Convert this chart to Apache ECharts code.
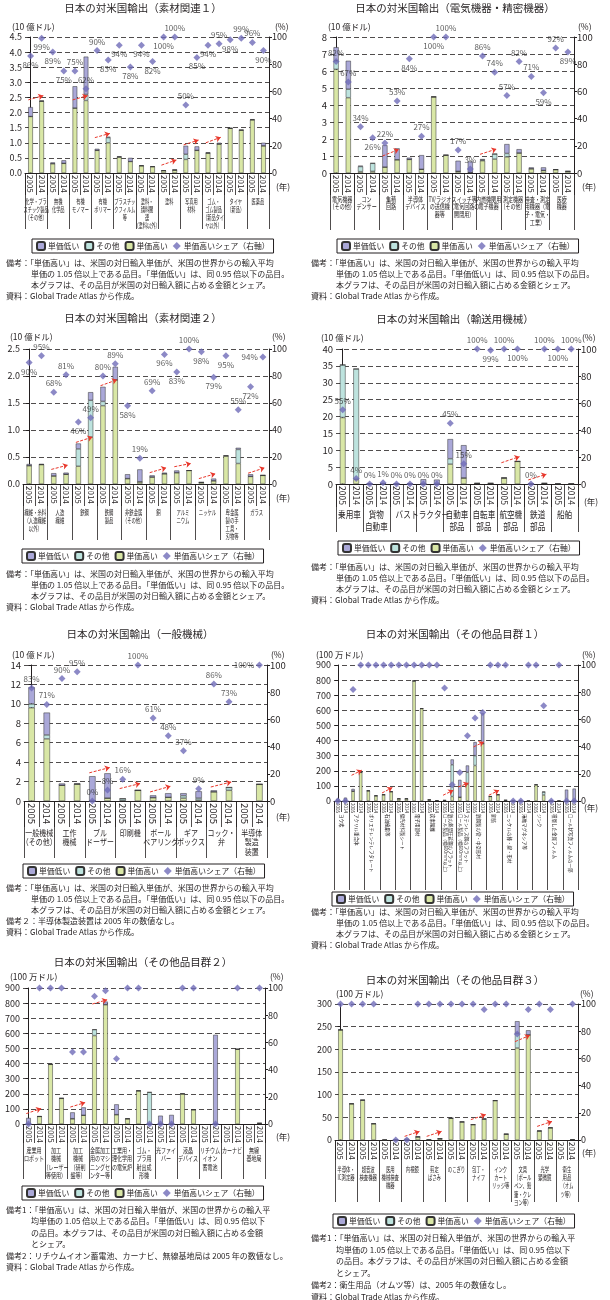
<!DOCTYPE html>
<html><head><meta charset="utf-8">
<script src="https://cdn.jsdelivr.net/npm/echarts@6/dist/echarts.min.js"></script>
<style>html,body{margin:0;padding:0;background:#fff}#c{width:610px;height:1300px}</style>
</head><body><div id="c"></div>
<script>
const yearLabels = ['2005','2014'];

// Panel 1: 素材関連１ (10億ドル)
const p1Groups = ['化学・プラ\nスチック製品\n（その他）','無機\n化学品','有機\nモノマー','有機\nポリマー','プラスチッ\nクフィルム\n等','塗料・\n顔料関\n連\n（塗料以外）','塗料','写真用\n材料','ゴム・\nゴム製品\n（新品タイ\nヤ以外）','タイヤ\n（新品）','医薬品'];
const p1High  = [1.87,2.38, 0.31,0.32, 2.15,2.40, 0.75,1.00, 0.53,0.38, 0.24,0.21, 0.08,0.10, 0.45,0.75, 0.66,0.96, 1.48,1.42, 1.76,0.90];
const p1Other = [0,0, 0,0, 0,0.20, 0,0.17, 0,0, 0,0, 0,0, 0.17,0, 0,0, 0,0, 0,0];
const p1Low   = [0.31,0, 0.04,0.10, 0.72,1.25, 0.05,0.03, 0.02,0.12, 0.01,0.01, 0,0, 0.28,0.13, 0.02,0.04, 0,0, 0.02,0.10];
const p1Share = [86,99, 89,75, 75,62, 90,83, 94,78, 94,82, 100,100, 50,85, 94,95, 98,99, 96,90];
const p1Pos   = ['b','b','b','b','t','t','t','b','b','b','b','b','b','t','t','b','b','t','b','t','t','b'];
const p1Arrows = [[0,2.42,2.56],[2,2.42,2.56],[3,1.17,1.31],[6,0.26,0.43],[7,0.93,1.09],[8,1.0,1.18]];

// Panel 2: 電気機器・精密機器 (10億ドル)
const p2Groups = ['電気機器\n（その他）','コン\nデンサー','集積\n回路','半導体\nデバイス','TV/ラジオ\nの送信機\n器等','スイッチ等\n（電気回路の\n開閉用）','内燃機関用\n電子機器','測定機器\n（その他）','検査・測定\n用機器（電\n子・電気・\n工業）','医療\n機器'];
const p2High  = [6.1,4.43, 0.08,0.10, 0.35,0.78, 0.80,0.22, 4.48,1.05, 0.10,0.03, 0.72,0.82, 0.95,1.18, 0.25,0.15, 0.20,0.10];
const p2Other = [0.5,0.5, 0.30,0.47, 0,0, 0,0, 0,0, 0,0, 0.05,0.30, 0.20,0, 0,0, 0,0];
const p2Low   = [0.8,1.67, 0.05,0.01, 1.28,0.67, 0.10,0.83, 0,0, 0.62,0.65, 0.05,0, 0.55,0.22, 0.08,0.18, 0.01,0];
const p2Share = [82,67, 34,26, 22,53, 84,27, 100,100, 17,3, 86,74, 57,82, 71,59, 92,89];
const p2Pos   = ['t','t','t','b','t','t','b','t','b','t','t','t','t','t','t','t','t','b','t','b'];
const p2Arrows = [[2,1.0,1.39],[6,1.1,1.41]];

// Panel 3: 素材関連２ (10億ドル)
const p3Groups = ['繊維・糸料\n（人造繊維\n以外）','人造\n繊維','鉄鋼','鉄鋼\n製品','非鉄金属\n（その他）','銅','アルミ\nニウム','ニッケル','卑金属\n製の手\n工具・\n刃物等','ガラス'];
const p3High  = [0.34,0.36, 0.15,0.18, 0.33,0.87, 1.45,1.93, 0.10,0.04, 0.13,0.19, 0.21,0.25, 0.03,0.06, 0.52,0.38, 0.14,0.16];
const p3Other = [0,0, 0,0, 0.32,0.68, 0.08,0, 0,0, 0,0, 0,0, 0,0, 0,0.26, 0,0];
const p3Low   = [0.03,0.01, 0.05,0.03, 0.10,0.15, 0.27,0.24, 0.08,0.23, 0.03,0.02, 0.04,0, 0,0.04, 0.01,0.03, 0.04,0];
const p3Share = [90,95, 68,81, 46,49, 80,89, 58,19, 69,96, 83,100, 98,79, 95,55, 72,94];
const p3Pos   = ['b','t','t','t','b','t','t','t','b','t','t','b','b','t','b','b','b','t','b','l'];
const p3Arrows = [[1,0.27,0.35],[2,0.77,0.87],[3,1.82,1.93],[5,0.21,0.30],[6,0.32,0.38],[7,0.10,0.19],[9,0.20,0.30]];

// Panel 4: 輸送用機械 (10億ドル)
const p4Groups = ['乗用車','貨物\n自動車','バス','トラクター','自動車\n部品','自転車\n部品','航空機\n部品','鉄道\n部品','船舶'];
const p4High  = [19.7,1.4, 0,0.003, 0,0, 0,0, 5.9,1.8, 0.2,0.2, 1.8,6.7, 0,0.2, 0.02,0.02];
const p4Other = [15.6,32.7, 0,0, 0,0, 0,0, 1.6,0, 0,0, 0,0, 0,0, 0,0];
const p4Low   = [0,0, 0.2,0.3, 0.05,0.05, 1.4,1.3, 5.8,9.7, 0,0, 0,0, 0.05,0, 0,0];
const p4Share = [55,4, 0,1, 0,0, 0,0, 45,15, 100,99, 100,100, 0,100, 100,100];
const p4Pos   = ['t','t','t','t','t','t','t','t','t','t','t','b','t','b','t','t','b','t'];
const p4Arrows = [[6,6.3,8.1],[7,1.2,2.9]];

// Panel 5: 一般機械 (10億ドル)
const p5Groups = ['一般機械\n（その他）','工作\n機械','ブル\nドーザー','印刷機','ボール\nベアリング','ギア\nボックス','コック・\n弁','半導体\n製造\n装置'];
const p5High  = [9.6,6.4, 1.62,1.74, 0,0.3, 0.04,1.1, 0.35,0.38, 0.3,0.1, 0.95,1.1, null,1.72];
const p5Other = [0.4,0.4, 0,0, 0,0, 0.2,0, 0,0, 0.25,0.2, 0,0.3, null,0];
const p5Low   = [1.7,2.3, 0.18,0.06, 2.55,2.55, 0,0, 0.23,0.42, 0.25,0.7, 0.15,0, null,0];
const p5Share = [83,71, 90,95, 0,8, 16,100, 61,48, 37,9, 86,73, null,100];
const p5Pos   = ['t','t','t','t','t','t','t','t','t','t','t','t','t','t','t','l'];
const p5Arrows = [[2,2.9,3.45],[3,1.28,1.8],[4,0.93,1.52],[6,1.44,1.96]];

// Panel 6: その他品目群１ (100万ドル)
const p6Groups = ['ヨウ素','アクリル重合体','ポリエチレンテレフタレート','石油樹脂等','偏光材料製シート','電子用部材','炭素繊維','鉄の熱間圧延鋼のフラット\nロール製品（幅600mm以上）','ステンレス鋼のフラット\nロール製品（幅600mm以上）','鉄鋼製の管・中空形材','銅箔','ニッケルの棒・線・形材','溶融マグネシア等','ジンク','積層した金属フィルム','ロール状写真フィルムの一部'];
const p6High  = [0,0, 65,190, 68,35, 42,62, 15,15, 795,612, 8,3, 4,30, 25,110, 235,380, 30,42, 5,0, 0,0, 108,40, 0,0, 0,0];
const p6Other = [0,0, 0,0, 0,0, 0,0, 0,0, 0,0, 0,0, 0,210, 0,80, 65,0, 0,0, 0,0, 0,0, 0,20, 0,0, 0,0];
const p6Low   = [15,22, 15,0, 0,0, 0,0, 0,0, 0,0, 0,0, 1,35, 115,45, 90,200, 0,0, 0,0, 0,0, 0,0, 0,0, 75,82];
const p6Share = [0,0, 82,100, 100,100, 100,100, 100,100, 100,100, 100,100, 83,12, 21,48, 61,65, 100,100, 100,0, 0,100, 100,70, 0,100, 0,0];
const p6Arrows = [[1,170,204],[3,53,89],[7,38,71],[8,93,119],[9,358,391],[10,38,71]];

// Panel 7: その他品目群２ (100万ドル)
const p7Groups = ['産業用\nロボット','加工\n機械\n（レーザー\n等使用）','加工\n機械\n（研削\n盤等）','金属加工\n用のマシ\nニングセ\nンター等','工業用・\n理化学用\nの電気炉','ゴム・\nプラ用\n射出成\n形機','光ファイ\nバー','液晶\nデバイス','リチウム\nイオン\n蓄電池','カーナビ','無線\n基地局'];
const p7High  = [0,50, 395,170, 35,58, 585,790, 62,35, 220,0, 0,0, 200,95, null,0, null,495, null,5];
const p7Other = [0,0, 0,0, 0,0, 40,0, 0,0, 0,210, 0,0, 0,0, null,0, null,0, null,0];
const p7Low   = [40,0, 0,0, 42,52, 0,20, 68,0, 0,0, 55,60, 0,0, null,590, null,0, null,0];
const p7Share = [0,100, 100,100, 53,53, 94,98, 48,100, 100,0, 0,0, 100,100, null,0, null,100, null,100];
const p7Arrows = [[0,69,102],[2,112,142],[3,794,822]];

// Panel 8: その他品目群３ (100万ドル)
const p8Groups = ['半導体・\nIC測定器','超音波\n検査機器','医用\n機械検査\n機器','内視鏡','剪定\nばさみ','のこぎり','包丁・\nナイフ','インク\nカート\nリッジ等','文具\n（ボール\nペン、鉛\n筆・クレ\nヨン等）','光学\n顕微鏡','衛生\n用品\n（オム\nツ等）'];
const p8High  = [243,80, 88,36, 0,0, 0,7, 0.3,3, 48,40, 34,46, 87,13, 203,232, 20,27, null,0.5];
const p8Other = [0,0, 0,0, 0,0, 0,0, 0,0, 0,0, 0,0, 0,0, 32,0, 0,0, null,0];
const p8Low   = [0,0, 0,0, 0,0, 3,0, 0,0, 0,0, 0,2, 0,0, 27,10, 0,0, null,0];
const p8Share = [100,100, 100,100, null,0, 0,100, 100,100, 100,100, 100,96, 100,100, 78,96, 100,96, null,100];
const p8Arrows = [[3,8,19],[4,8,19],[6,45,56],[8,217,231],[9,30,41]];

const NOTE_STD = [
  ['備考：「単価高い」は、米国の対日輸入単価が、米国の世界からの輸入平均',0],
  ['単価の 1.05 倍以上である品目。「単価低い」は、同 0.95 倍以下の品目。',1],
  ['本グラフは、その品目が米国の対日輸入額に占める金額とシェア。',1],
  ['資料：Global Trade Atlas から作成。',0]];
const NOTE_P5 = [NOTE_STD[0],NOTE_STD[1],NOTE_STD[2],
  ['備考２：半導体製造装置は 2005 年の数値なし。',0], NOTE_STD[3]];
const NOTE_LONG = [
  ['備考1：「単価高い」は、米国の対日輸入単価が、米国の世界からの輸入平',0],
  ['均単価の 1.05 倍以上である品目。「単価低い」は、同 0.95 倍以下',1],
  ['の品目。本グラフは、その品目が米国の対日輸入額に占める金額',1],
  ['とシェア。',1]];
const NOTE_P7 = NOTE_LONG.concat([['備考2：リチウムイオン蓄電池、カーナビ、無線基地局は 2005 年の数値なし。',0],['資料：Global Trade Atlas から作成。',0]]);
const NOTE_P8 = NOTE_LONG.concat([['備考2：衛生用品（オムツ等）は、2005 年の数値なし。',0],['資料：Global Trade Atlas から作成。',0]]);

const FONT = '"Noto Sans CJK JP", "Noto Sans", sans-serif';
const INK = '#231f20';
const C_LOW = '#aaa8d8', C_OTH = '#bde3de', C_HIGH = '#d9e7a6', C_PT = '#6f6cb8', C_ARW = '#e8382c';

const panels = [
 {groups:p1Groups, high:p1High, other:p1Other, low:p1Low, share:p1Share, pos:p1Pos, arrows:p1Arrows,
  grid:{left:25,top:37,width:244,height:136}, yMax:4.5, yInt:0.5, dec:1, yFont:9, yearFont:8, yearTick:22, grpTick:56,
  grpFont:7, grpLH:8, grpScale:0.6, grpTop:197, title:'日本の対米国輸出（素材関連１）', tx:143, ty:8,
  unit:'(10 億ドル)', ux:12, uy:27, px:275, py:27, nx:276, ny:187, legend:[32,239], notes:NOTE_STD, noteX:6, noteY:263, noteLH:11},
 {groups:p2Groups, high:p2High, other:p2Other, low:p2Low, share:p2Share, pos:p2Pos, arrows:p2Arrows,
  grid:{left:330,top:37,width:244,height:136}, yMax:8, yInt:1, dec:0, yFont:9.5, yearFont:8, yearTick:22, grpTick:57,
  grpFont:7, grpLH:7.8, grpScale:0.72, grpTop:195, title:'日本の対米国輸出（電気機器・精密機器）', tx:455, ty:8,
  unit:'(10 億ドル)', ux:328, uy:27, px:578, py:27, nx:582, ny:187, legend:[337,239], notes:NOTE_STD, noteX:311, noteY:263, noteLH:11},
 {groups:p3Groups, high:p3High, other:p3Other, low:p3Low, share:p3Share, pos:p3Pos, arrows:p3Arrows,
  grid:{left:23,top:349,width:246,height:135}, yMax:2.5, yInt:0.5, dec:1, yFont:9, yearFont:8, yearTick:22, grpTick:56,
  grpFont:7, grpLH:8, grpScale:0.62, grpTop:508, title:'日本の対米国輸出（素材関連２）', tx:143, ty:318,
  unit:'(10 億ドル)', ux:10, uy:337, px:272, py:337, nx:276, ny:498, legend:[22,549], notes:NOTE_STD, noteX:6, noteY:574, noteLH:11},
 {groups:p4Groups, high:p4High, other:p4Other, low:p4Low, share:p4Share, pos:p4Pos, arrows:p4Arrows,
  grid:{left:336,top:349,width:242,height:135}, yMax:40, yInt:5, dec:0, yFont:9.5, yearFont:8.5, yearTick:23, grpTick:48,
  grpFont:9.5, grpLH:12, grpScale:0.8, grpTop:508, title:'日本の対米国輸出（輸送用機械）', tx:455, ty:319,
  unit:'(10 億ドル)', ux:321, uy:338, px:582, py:338, nx:584, ny:502, legend:[338,541], notes:NOTE_STD, noteX:311, noteY:567, noteLH:11},
 {groups:p5Groups, high:p5High, other:p5Other, low:p5Low, share:p5Share, pos:p5Pos, arrows:p5Arrows,
  grid:{left:24,top:665,width:243,height:136}, yMax:14, yInt:2, dec:0, yFont:9.5, yearFont:9.5, yearTick:26, grpTick:57,
  grpFont:8.5, grpLH:9.5, grpScale:0.82, grpTop:828, title:'日本の対米国輸出（一般機械）', tx:140, ty:634,
  unit:'(10 億ドル)', ux:12, uy:655, px:271, py:655, nx:276, ny:817, legend:[23,864], notes:NOTE_P5, noteX:6, noteY:888, noteLH:11},
 {groups:p6Groups, high:p6High, other:p6Other, low:p6Low, share:p6Share, pos:null, arrows:p6Arrows,
  grid:{left:334,top:665,width:244,height:136}, yMax:900, yInt:100, dec:0, yFont:9, yearFont:4.5, yearTick:11, grpTick:89,
  rot:true, title:'日本の対米国輸出（その他品目群１）', tx:455, ty:634,
  unit:'(100 万ドル)', ux:316, uy:655, px:582, py:655, nx:584, ny:808, legend:[332,892], notes:NOTE_STD, noteX:311, noteY:912, noteLH:11},
 {groups:p7Groups, high:p7High, other:p7Other, low:p7Low, share:p7Share, pos:null, arrows:p7Arrows,
  grid:{left:23,top:988,width:242,height:136}, yMax:900, yInt:100, dec:0, yFont:9, yearFont:7.5, yearTick:19, grpTick:55,
  grpFont:7, grpLH:8.5, grpScale:0.72, grpTop:1146, title:'日本の対米国輸出（その他品目群２）', tx:143, ty:962,
  unit:'(100 万ドル)', ux:10, uy:977, px:270, py:977, nx:276, ny:1137, legend:[22,1186], notes:NOTE_P7, noteX:6, noteY:1210, noteLH:11.4},
 {groups:p8Groups, high:p8High, other:p8Other, low:p8Low, share:p8Share, pos:null, arrows:p8Arrows,
  grid:{left:335,top:1004,width:243,height:136}, yMax:300, yInt:50, dec:0, yFont:9, yearFont:8, yearTick:20, grpTick:62,
  grpFont:7, grpLH:8.3, grpScale:0.62, grpTop:1165, title:'日本の対米国輸出（その他品目群３）', tx:455, ty:980,
  unit:'(100 万ドル)', ux:336, uy:994, px:580, py:994, nx:582, ny:1153, legend:[333,1214], notes:NOTE_P8, noteX:311, noteY:1238, noteLH:11.7}
];

const posMap = {t:'top', b:'bottom', l:'left', r:'right'};
const grids = [], xAxes = [], yAxes = [], series = [], legends = [];

panels.forEach((p, i) => {
  const cats = [];
  p.groups.forEach((g, gi) => yearLabels.forEach(y => cats.push(gi + '|' + y)));
  grids.push(Object.assign({containLabel:false}, p.grid));
  xAxes.push({type:'category', gridIndex:i, position:'bottom', data:cats,
    axisLine:{lineStyle:{color:INK, width:1}},
    axisTick:{show:true, interval:0, length:p.yearTick, lineStyle:{color:INK, width:0.8}},
    axisLabel:{interval:0, rotate:-90, fontSize:p.yearFont, margin:2, color:INK, fontFamily:FONT,
      formatter: v => v.split('|')[1]},
    splitLine:{show:false}});
  xAxes.push({type:'category', gridIndex:i, position:'bottom', data:p.groups,
    axisLine:{show:false},
    axisTick:{show:true, interval:0, length:p.grpTick, lineStyle:{color:INK, width:0.8}},
    axisLabel: p.rot ? {interval:0, rotate:-90, fontSize:4.5, lineHeight:5.5, margin:13, color:INK, fontFamily:FONT, hideOverlap:false}
                     : {show:false},
    splitLine:{show:false}});
  xAxes.push({type:'value', gridIndex:i, min:-0.5, max:cats.length-0.5, show:false});
  yAxes.push({type:'value', gridIndex:i, position:'left', min:0, max:p.yMax, interval:p.yInt,
    axisLine:{show:true, lineStyle:{color:INK, width:1}},
    axisTick:{show:true, length:3, lineStyle:{color:INK}},
    axisLabel:{fontSize:p.yFont, color:INK, margin:3, fontFamily:FONT, formatter: v => v.toFixed(p.dec)},
    splitLine:{show:true, lineStyle:{color:INK, width:0.8, type:[5,3]}}});
  yAxes.push({type:'value', gridIndex:i, position:'right', min:0, max:100, interval:20,
    axisLine:{show:true, lineStyle:{color:INK, width:1}},
    axisTick:{show:true, length:3, lineStyle:{color:INK}},
    axisLabel:{fontSize:p.yFont, color:INK, margin:3, fontFamily:FONT},
    splitLine:{show:false}});
  const xi = i*3, yi = i*2;
  const barBase = {type:'bar', xAxisIndex:xi, yAxisIndex:yi, stack:'s'+i, barWidth:'42%', z:2};
  series.push(Object.assign({}, barBase, {name:'単価高い', data:p.high, itemStyle:{color:C_HIGH, borderColor:'#333', borderWidth:0.5}}));
  series.push(Object.assign({}, barBase, {name:'その他', data:p.other, itemStyle:{color:C_OTH, borderColor:'#333', borderWidth:0.5}}));
  series.push(Object.assign({}, barBase, {name:'単価低い', data:p.low, itemStyle:{color:C_LOW, borderColor:'#333', borderWidth:0.5}}));
  series.push({type:'scatter', name:'単価高いシェア（右軸）', xAxisIndex:xi, yAxisIndex:yi+1, z:4,
    symbol:'diamond', symbolSize:7, itemStyle:{color:C_PT},
    label:{show:!!p.pos, fontSize:8, color:'#333', distance:1.5, fontFamily:FONT, formatter: q => q.value + '%'},
    data: p.share.map((v, k) => v == null ? '-' : (p.pos ? {value:v, label:{position:posMap[p.pos[k]]}} : v))});
  series.push({type:'lines', coordinateSystem:'cartesian2d', xAxisIndex:xi+2, yAxisIndex:yi, z:5, silent:true,
    symbol:['none','arrow'], symbolSize:5,
    lineStyle:{color:C_ARW, width:1, type:[3,1.5], opacity:1, curveness:0},
    data: p.arrows.map(a => ({coords:[[a[0]*2-0.2, a[1]], [a[0]*2+1.15, a[2]]]}))});
  legends.push({left:p.legend[0], top:p.legend[1], orient:'horizontal', itemWidth:8, itemHeight:8, itemGap:5,
    padding:[2,4], borderColor:INK, borderWidth:1, selectedMode:false,
    textStyle:{fontSize:7.8, color:INK, fontFamily:FONT, padding:[0,0,0,-2]},
    data:[{name:'単価低い'},{name:'その他'},{name:'単価高い'},{name:'単価高いシェア（右軸）', icon:'diamond'}]});
});

const chart = echarts.init(document.getElementById('c'));
chart.setOption({
  animation:false, backgroundColor:'#fff',
  textStyle:{fontFamily:FONT},
  grid:grids, xAxis:xAxes, yAxis:yAxes, series:series, legend:legends
});

function txt(x, y, text, size, align, extra) {
  return Object.assign({type:'text', x:x, y:y, silent:true,
    style:{x:0, y:0, text:text, fontSize:size, fontFamily:FONT, fill:INK,
      align:align||'left', verticalAlign:'middle', textAlign:align||'left', textVerticalAlign:'middle'}}, extra||{});
}
const gfx = [];
panels.forEach((p, i) => {
  gfx.push(txt(p.tx, p.ty, p.title, 10.5, 'center'));
  gfx.push(txt(p.ux, p.uy, p.unit, 8.5, 'left'));
  gfx.push(txt(p.px, p.py, '(%)', 8.5, 'left'));
  gfx.push(txt(p.nx, p.ny, '(年)', 8.5, 'left'));
  if (!p.rot) {
    p.groups.forEach((name, gi) => {
      const x = chart.convertToPixel({xAxisIndex:i*3+2}, gi*2+0.5);
      gfx.push({type:'text', x:x, y:p.grpTop, scaleX:p.grpScale, silent:true,
        style:{x:0, y:0, text:name, fontSize:p.grpFont, lineHeight:p.grpLH, fontFamily:FONT, fill:INK,
          align:'center', verticalAlign:'top', textAlign:'center', textVerticalAlign:'top'}});
    });
  }
  p.notes.forEach((ln, k) => {
    gfx.push(txt(p.noteX + (ln[1] ? 25 : 0), p.noteY + k*p.noteLH, ln[0], 8, 'left'));
  });
});
chart.setOption({graphic:{elements:gfx}});
</script></body></html>
